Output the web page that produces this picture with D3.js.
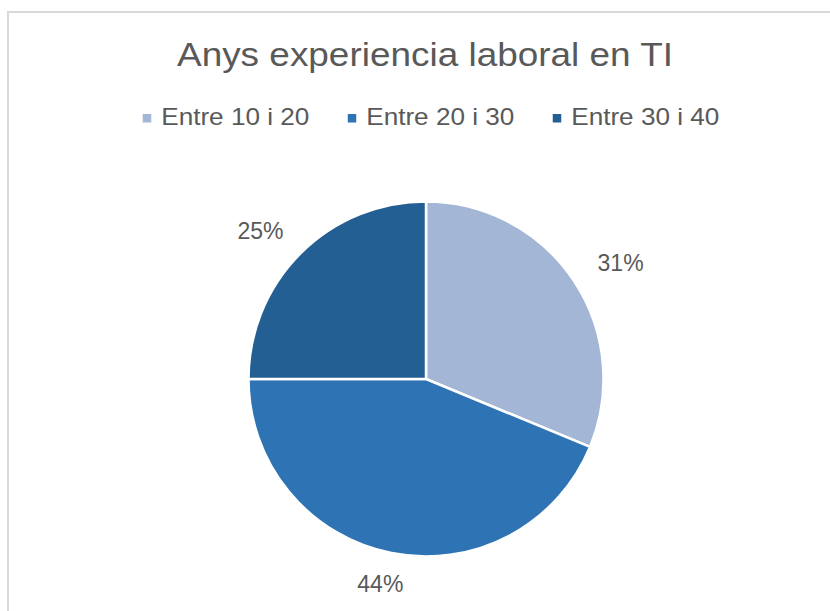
<!DOCTYPE html>
<html>
<head>
<meta charset="utf-8">
<script src="https://cdn.jsdelivr.net/npm/d3@7"></script>
<style>
  body { margin: 0; background: #fff; }
  text { font-family: "Liberation Sans", Arial, sans-serif; fill: #595959; }
</style>
</head>
<body>
<div id="chart"></div>
<script>
// pie: anys experiencia laboral
const categories = ["Entre 10 i 20", "Entre 20 i 30", "Entre 30 i 40"];
const values = [5, 7, 4];
const colors = ["#a4b6d5", "#2e74b5", "#245f94"];
const title = "Anys experiencia laboral en TI";

const width = 830, height = 611;
const cx = 426, cy = 379, radius = 177.5;

let svg = d3.select("#chart").append("svg")
    .attr("width", width)
    .attr("height", height);

// chart frame (runs off the right and bottom)
svg.append("rect")
    .attr("x", 8).attr("y", 12)
    .attr("width", width + 20).attr("height", height + 20)
    .attr("fill", "none")
    .attr("stroke", "#d9d9d9")
    .attr("stroke-width", 2);

svg.append("text")
    .attr("x", 425).attr("y", 66)
    .attr("text-anchor", "middle")
    .attr("textLength", 496)
    .attr("lengthAdjust", "spacingAndGlyphs")
    .style("font-size", "32.5px")
    .text(title);

// legend
let legend = svg.append("g");
let x = 0;
let items = legend.selectAll("g").data(categories).join("g");
items.append("rect")
    .attr("x", 0).attr("y", -4)
    .attr("width", 8.5).attr("height", 8.5)
    .attr("fill", (d, i) => colors[i]);
items.append("text")
    .attr("x", 18.5).attr("y", 7)
    .style("font-size", "24px")
    .attr("textLength", 148)
    .attr("lengthAdjust", "spacingAndGlyphs")
    .text(d => d);
items.each(function () {
    d3.select(this).attr("transform", "translate(" + x + ",0)");
    x += this.getBBox().width + 38.5;
});
let legW = x - 38.5;
legend.attr("transform", "translate(" + (431 - legW / 2) + ",118)");

// pie
let total = d3.sum(values);
let pie = d3.pie().sort(null)(values);
let arc = d3.arc().innerRadius(0).outerRadius(radius);

let g = svg.append("g").attr("transform", "translate(" + cx + "," + cy + ")");
g.selectAll("path")
    .data(pie)
    .join("path")
    .attr("d", arc)
    .attr("fill", (d, i) => colors[i])
    .attr("stroke", "#fff")
    .attr("stroke-width", 2.5);

// outside-end labels
const labR = radius + 22;
g.selectAll("text.lab")
    .data(pie)
    .join("text")
    .attr("class", "lab")
    .style("font-size", "23px")
    .attr("text-anchor", "middle")
    .text(d => Math.round(d.value / total * 100) + "%")
    .each(function (d) {
        let a = (d.startAngle + d.endAngle) / 2;
        let b = this.getBBox();
        let lx = Math.sin(a) * labR + Math.sin(a) * b.width * 0.75;
        let ly = -Math.cos(a) * labR - Math.cos(a) * 10;
        d3.select(this).attr("x", lx).attr("y", ly + 8);
    });
</script>
</body>
</html>
